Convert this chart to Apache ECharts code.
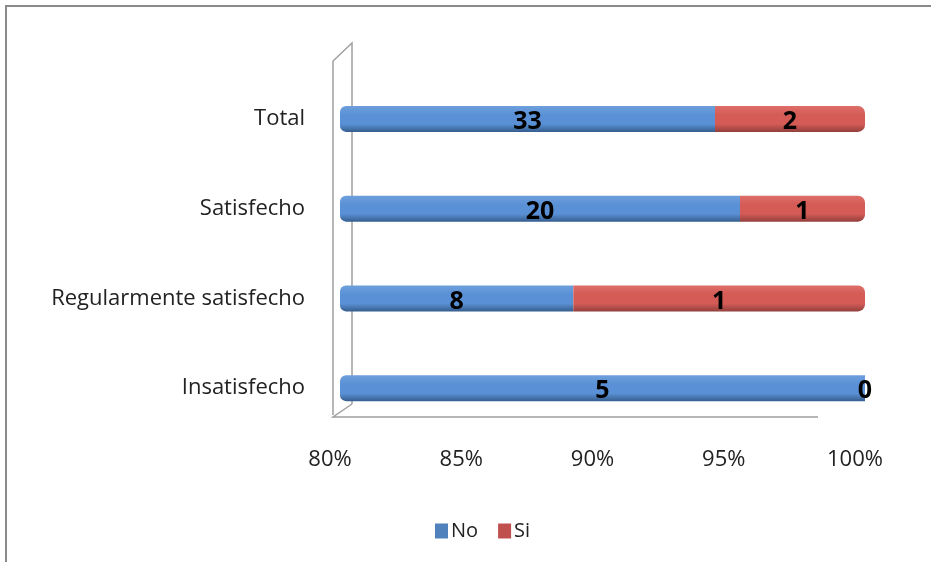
<!DOCTYPE html>
<html>
<head>
<meta charset="utf-8">
<script src="https://cdn.jsdelivr.net/npm/echarts@6/dist/echarts.min.js"></script>
<style>
  html, body { margin: 0; padding: 0; background: #fff; }
  #chart { width: 931px; height: 562px; }
</style>
</head>
<body>
<div id="chart"></div>
<script>
// categories, bottom to top
var categories = ['Insatisfecho', 'Regularmente satisfecho', 'Satisfecho', 'Total'];
var noCounts = [5, 8, 20, 33];
var siCounts = [0, 1, 1, 2];
var xTicks = [80, 85, 90, 95, 100];

// 100% stacked: share of each row
function share(part, i) {
  var t = noCounts[i] + siCounts[i];
  return t ? part / t * 100 : 0;
}
var noPct = noCounts.map(function (v, i) { return { value: share(v, i), count: v }; });
var siPct = siCounts.map(function (v, i) { return { value: share(v, i), count: v }; });

var chart = echarts.init(document.getElementById('chart'));

var font = '"Open Sans", "DejaVu Sans", sans-serif';

function grad(top, mid, bottom) {
  return new echarts.graphic.LinearGradient(0, 0, 0, 1, [
    { offset: 0, color: top },
    { offset: 0.35, color: mid },
    { offset: 0.7, color: mid },
    { offset: 1, color: bottom }
  ]);
}

var labelStyle = {
  show: true,
  position: 'inside',
  offset: [0, 3],
  color: '#000',
  fontFamily: font,
  fontWeight: 'bold',
  fontSize: 25,
  formatter: function (p) { return p.data.count; }
};

var wall = '#a0a0a0';

var option = {
  animation: false,
  grid: { left: 340, right: 66, top: 74, bottom: 129 },
  xAxis: {
    type: 'value',
    min: xTicks[0],
    max: xTicks[xTicks.length - 1],
    interval: 5,
    axisLine: { show: false },
    axisTick: { show: false },
    splitLine: { show: false },
    axisLabel: {
      margin: 16,
      color: '#222',
      fontFamily: font,
      fontSize: 22,
      padding: [0, 20, 0, 0],
      formatter: '{value}%'
    }
  },
  yAxis: {
    type: 'category',
    data: categories,
    axisLine: { show: false },
    axisTick: { show: false },
    axisLabel: {
      margin: 35,
      color: '#222',
      fontFamily: font,
      fontSize: 22
    }
  },
  legend: {
    top: 516,
    left: 430,
    itemWidth: 13,
    itemHeight: 15,
    itemGap: 20,
    icon: 'rect',
    textStyle: { color: '#222', fontFamily: font, fontSize: 20, padding: [0, 0, 0, -2] },
    data: [
      { name: 'No', itemStyle: { color: '#4f81bd' } },
      { name: 'Si', itemStyle: { color: '#c0504d' } }
    ]
  },
  graphic: [
    // outer frame
    { type: 'polyline', shape: { points: [[6, 562], [6, 6], [931, 6]] }, style: { stroke: '#8a8a8a', lineWidth: 2, fill: null } },
    // back wall outline
    { type: 'polyline', shape: { points: [[333, 415], [333, 61], [352, 43], [352, 404]] }, style: { stroke: wall, lineWidth: 1.5, fill: null } },
    { type: 'polyline', shape: { points: [[352, 404], [333, 417], [818, 417]] }, style: { stroke: wall, lineWidth: 1.5, fill: null } }
  ],
  series: [
    {
      name: 'No',
      type: 'bar',
      stack: 'total',
      barWidth: 26,
      data: noPct,
      itemStyle: {
        color: grad('#6e9fdc', '#5a91d6', '#365e8e'),
        borderRadius: [6, 0, 0, 6]
      },
      label: labelStyle
    },
    {
      name: 'Si',
      type: 'bar',
      stack: 'total',
      barWidth: 26,
      data: siPct,
      itemStyle: {
        color: grad('#de6e69', '#d45b56', '#93403d'),
        borderRadius: [0, 7, 7, 0]
      },
      label: labelStyle
    }
  ]
};

chart.setOption(option);
</script>
</body>
</html>
